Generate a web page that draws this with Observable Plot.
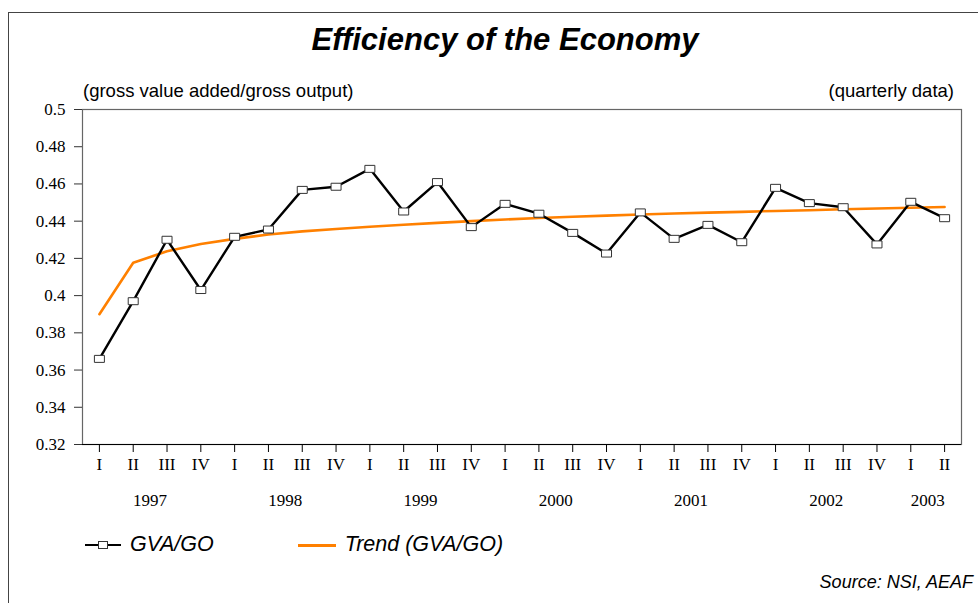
<!DOCTYPE html>
<html>
<head>
<meta charset="utf-8">
<script src="https://cdn.jsdelivr.net/npm/d3@7"></script>
<script src="https://cdn.jsdelivr.net/npm/@observablehq/plot@0.6"></script>
<style>
  html, body { margin: 0; padding: 0; background: #fff; }
  #wrap { position: relative; width: 978px; height: 603px; overflow: hidden; font-family: "Liberation Sans", Arial, sans-serif; }
  #border { position: absolute; left: 8px; top: 12px; width: 1000px; height: 700px; border-left: 1px solid #444; border-top: 1px solid #444; }
  #chart { position: absolute; left: 0; top: 0; }
  .t { position: absolute; white-space: nowrap; color: #000; }
  #title { left: 0; width: 1010px; top: 22px; text-align: center; font-size: 31px; font-weight: bold; font-style: italic; }
  #sub1 { left: 83px; top: 80px; font-size: 18.5px; }
  #sub2 { right: 24px; top: 80px; font-size: 18.5px; }
  #legend { left: 85px; top: 532px; font-size: 21.5px; font-style: italic; display: flex; align-items: center; }
  .sw { display: inline-block; position: relative; width: 36px; height: 14px; margin-right: 9px; }
  .sw .ln { position: absolute; left: 0; right: 0; top: 6px; height: 2px; background: #000; }
  .sw .mk { position: absolute; left: 13px; top: 3px; width: 8px; height: 6px; border: 1px solid #333; background: #fff; }
  .sw .or { position: absolute; left: 0; right: 0; top: 6px; height: 3px; background: #ff8000; }
  #source { right: 5px; top: 572px; font-size: 18px; font-style: italic; }
</style>
</head>
<body>
<div id="wrap">
  <div id="border"></div>
  <div id="chart"></div>
  <div class="t" id="title">Efficiency of the Economy</div>
  <div class="t" id="sub1">(gross value added/gross output)</div>
  <div class="t" id="sub2">(quarterly data)</div>
  <div class="t" id="legend">
    <span class="sw"><span class="ln"></span><span class="mk"></span></span><span>GVA/GO</span>
    <span style="display:inline-block;width:84px"></span>
    <span class="sw" style="width:38px"><span class="or"></span></span><span>Trend (GVA/GO)</span>
  </div>
  <div class="t" id="source">Source: NSI, AEAF</div>
</div>
<script>
// ---- data ----
const quarterLabels = ["I","II","III","IV","I","II","III","IV","I","II","III","IV","I","II","III","IV","I","II","III","IV","I","II","III","IV","I","II"];
const quarterYears = [1997,1997,1997,1997,1998,1998,1998,1998,1999,1999,1999,1999,2000,2000,2000,2000,2001,2001,2001,2001,2002,2002,2002,2002,2003,2003];
const gvaGo = [0.366,0.397,0.430,0.403,0.4316,0.4355,0.4568,0.4585,0.4681,0.4452,0.461,0.4368,0.4493,0.444,0.4337,0.4226,0.4447,0.4305,0.438,0.4287,0.4579,0.4497,0.4475,0.4275,0.4504,0.4416];
const trendGvaGo = [0.3900,0.4177,0.4238,0.4277,0.4305,0.4328,0.4345,0.4358,0.4370,0.4381,0.4391,0.4400,0.4409,0.4417,0.4424,0.4430,0.4436,0.4441,0.4446,0.4450,0.4455,0.4459,0.4464,0.4468,0.4472,0.4476];
const yearLabels = ["1997","1998","1999","2000","2001","2002","2003"];
const yTicks = [0.32,0.34,0.36,0.38,0.40,0.42,0.44,0.46,0.48,0.50];

// ---- tables built from the arrays ----
const rows = quarterLabels.map((q, i) => ({i, q, year: quarterYears[i], gva: gvaGo[i], trend: trendGvaGo[i]}));
const yearRows = yearLabels.map(y => {
  const idx = rows.filter(r => String(r.year) === y).map(r => r.i);
  return {year: y, i: d3.mean(idx)};
});

const boxSymbol = { draw(ctx) { ctx.rect(-5, -3.5, 10, 7); } };

const chart = Plot.plot({
  width: 978,
  height: 603,
  marginLeft: 82,
  marginRight: 17,
  marginTop: 109,
  marginBottom: 159,
  style: { fontFamily: "'Liberation Serif', 'Times New Roman', serif", fontSize: "17px", color: "#000", background: "transparent" },
  x: { type: "linear", domain: [-0.5, quarterLabels.length - 0.5] },
  y: { domain: [0.32, 0.5] },
  marks: [
    Plot.frame({ stroke: "#666", strokeWidth: 1.2 }),
    Plot.ruleY([0.32], { stroke: "#000", strokeWidth: 1.2 }),
    Plot.axisY({ ticks: yTicks, tickSize: 8, tickPadding: 9, tickFormat: d => String(+d.toFixed(2)), stroke: "#333", fontSize: 17, label: null }),
    Plot.axisX({ ticks: rows.map(r => r.i), tickSize: 8, tickPadding: 5, tickFormat: i => quarterLabels[i], stroke: "#000", fontSize: 17, label: null }),
    Plot.text(yearRows, { x: "i", text: "year", frameAnchor: "bottom", dy: 61, lineAnchor: "bottom", textAnchor: "middle", fill: "#000", fontSize: 17 }),
    Plot.line(rows, { x: "i", y: "trend", stroke: "#ff8000", strokeWidth: 2.6, curve: "linear" }),
    Plot.line(rows, { x: "i", y: "gva", stroke: "#000", strokeWidth: 2.4 }),
    Plot.dot(rows, { x: "i", y: "gva", symbol: boxSymbol, fill: "#fff", stroke: "#333", strokeWidth: 1 })
  ]
});
document.getElementById("chart").appendChild(chart);
</script>
</body>
</html>
